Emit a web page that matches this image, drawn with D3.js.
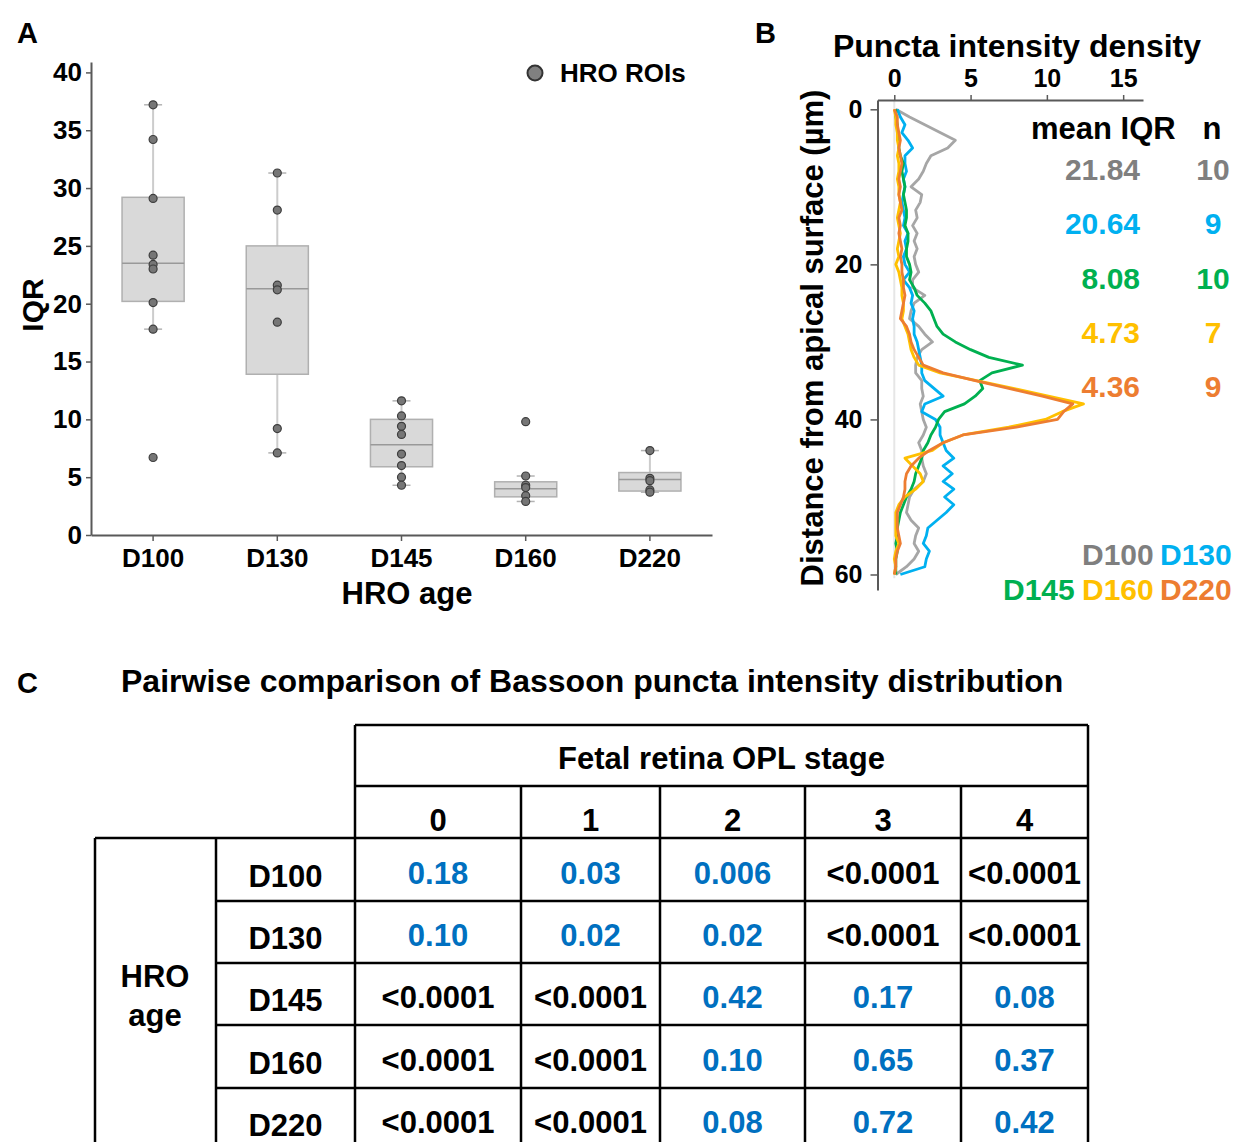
<!DOCTYPE html>
<html>
<head>
<meta charset="utf-8">
<script src="https://cdn.jsdelivr.net/npm/d3@7"></script>
<style>
  body { margin: 0; background: #fff; }
  svg { display: block; font-family: "Liberation Sans", Arial, Helvetica, sans-serif; font-weight: bold; }
</style>
</head>
<body>
<svg id="fig" width="1234" height="1142"></svg>
<script>
// ---------- Panel A: IQR per HRO age ----------
const ages = ["D100", "D130", "D145", "D160", "D220"];
const roiIQR = [
  [37.2, 34.2, 29.1, 24.2, 23.4, 23.0, 20.1, 17.8, 6.7],
  [31.3, 28.1, 21.6, 21.2, 18.4, 9.2, 7.1],
  [11.6, 10.3, 9.4, 8.7, 7.0, 6.0, 5.0, 4.3],
  [9.8, 5.1, 4.3, 4.1, 3.4, 2.9],
  [7.3, 4.9, 4.7, 3.9, 3.7]
];
const boxQ1 = [20.2, 13.9, 5.9, 3.3, 3.8];
const boxMedian = [23.5, 21.3, 7.8, 4.0, 4.8];
const boxQ3 = [29.2, 25.0, 10.0, 4.6, 5.4];
const whiskerLow = [17.8, 7.1, 4.3, 2.9, 3.7];
const whiskerHigh = [37.2, 31.3, 11.6, 5.1, 7.3];
const iqrTicks = [0, 5, 10, 15, 20, 25, 30, 35, 40];

// ---------- Panel B: puncta intensity density vs depth ----------
const depth = [0, 1, 2, 3, 4, 5, 6, 7, 8, 9, 10, 11, 12, 13, 14, 15, 16, 17, 18, 19, 20,
  21, 22, 23, 24, 25, 26, 27, 28, 29, 30, 31, 32, 33, 34, 35, 36, 37, 38, 39, 40,
  41, 42, 43, 44, 45, 46, 47, 48, 49, 50, 51, 52, 53, 54, 55, 56, 57, 58, 59, 60];
const densD100 = [0.1, 1.0, 2.0, 3.0, 4.0, 3.5, 2.4, 2.1, 1.9, 1.6, 1.1, 1.8, 1.7, 1.4, 1.5, 1.2, 1.5, 1.3, 1.5, 1.3, 1.4,
  1.6, 1.2, 1.2, 2.0, 1.3, 1.1, 1.0, 1.6, 2.0, 2.5, 1.8, 1.5, 1.4, 1.4, 1.8, 1.8, 1.9, 1.7, 1.8, 1.9,
  2.1, 1.9, 1.6, 1.8, 1.8, 1.9, 2.1, 1.9, 1.3, 1.0, 0.9, 0.8, 1.1, 1.6, 1.4, 1.3, 1.6, 1.3, 0.8, 0.1];
const densD130 = [0.2, 0.4, 0.7, 0.5, 0.9, 1.2, 0.7, 0.7, 0.8, 0.6, 0.7, 0.6, 0.5, 0.6, 0.7, 0.6, 0.9, 0.7, 0.8, 0.6, 0.7,
  1.0, 0.6, 1.0, 1.2, 1.1, 1.3, 1.2, 1.3, 1.3, 1.5, 1.6, 1.7, 1.8, 1.8, 2.0, 2.6, 3.2, 2.0, 1.8, 2.7,
  3.0, 3.0, 3.2, 3.4, 3.9, 3.2, 3.8, 3.2, 3.9, 3.3, 3.9, 3.4, 2.8, 2.2, 2.1, 1.9, 2.3, 2.1, 2.0, 0.4];
const densD145 = [0.1, 0.1, 0.2, 0.2, 0.3, 0.3, 0.4, 0.6, 0.5, 0.6, 0.7, 0.6, 0.7, 0.8, 0.8, 0.7, 0.9, 0.9, 0.8, 0.8, 1.0,
  1.1, 1.0, 1.3, 1.5, 2.0, 2.4, 2.6, 2.8, 3.2, 4.0, 5.0, 6.2, 8.4, 6.4, 5.6, 5.8, 5.3, 4.6, 3.3, 2.9,
  2.7, 2.4, 2.2, 1.9, 1.8, 1.6, 1.4, 1.3, 1.1, 0.8, 0.6, 0.4, 0.3, 0.2, 0.2, 0.1, 0.2, 0.1, 0.1, 0.1];
const densD160 = [0.0, 0.1, 0.1, 0.2, 0.2, 0.3, 0.2, 0.3, 0.3, 0.2, 0.3, 0.3, 0.4, 0.3, 0.2, 0.3, 0.4, 0.3, 0.2, 0.3, 0.1,
  0.3, 0.4, 0.5, 0.5, 0.6, 0.6, 0.5, 0.7, 0.9, 1.0, 1.1, 1.3, 1.6, 3.0, 5.4, 7.8, 10.1, 12.4, 11.0, 9.9,
  7.5, 4.5, 3.2, 2.5, 0.7, 1.2, 1.7, 1.9, 1.4, 0.7, 0.3, 0.1, 0.1, 0.1, 0.1, 0.3, 0.1, 0.0, 0.1, 0.0];
const densD220 = [0.0, 0.2, 0.2, 0.3, 0.4, 0.3, 0.4, 0.5, 0.4, 0.3, 0.4, 0.3, 0.4, 0.5, 0.3, 0.4, 0.3, 0.4, 0.5, 0.4, 0.5,
  0.5, 0.6, 0.6, 0.7, 0.6, 0.5, 0.4, 0.8, 1.0, 1.1, 1.3, 1.6, 1.9, 3.2, 5.3, 7.5, 9.7, 11.7, 11.1, 10.7,
  8.0, 4.5, 3.2, 2.3, 1.6, 1.1, 0.8, 0.7, 0.7, 0.6, 0.4, 0.2, 0.2, 0.2, 0.3, 0.4, 0.2, 0.1, 0.1, 0.0];
const meanIQR = ["21.84", "20.64", "8.08", "4.73", "4.36"];
const nROIs = ["10", "9", "10", "7", "9"];
const densTicks = [0, 5, 10, 15];
const depthTicks = [0, 20, 40, 60];

// ---------- Panel C: pairwise p-values ----------
const oplStages = ["0", "1", "2", "3", "4"];
const pValues = [
  ["0.18", "0.03", "0.006", "<0.0001", "<0.0001"],
  ["0.10", "0.02", "0.02", "<0.0001", "<0.0001"],
  ["<0.0001", "<0.0001", "0.42", "0.17", "0.08"],
  ["<0.0001", "<0.0001", "0.10", "0.65", "0.37"],
  ["<0.0001", "<0.0001", "0.08", "0.72", "0.42"]
];

const seriesColor = ["#a6a6a6", "#00b0f0", "#00b050", "#ffc000", "#ed7d31"];
const labelColor = ["#7f7f7f", "#00b0f0", "#00b050", "#ffc000", "#ed7d31"];
const axisColor = "#595959";
const fontFam = '"Liberation Sans", Arial, Helvetica, sans-serif';

const svg = d3.select("#fig");
svg.append("rect").attr("width", 1234).attr("height", 1142).attr("fill", "#fff");

function styleAxis(g, size) {
  g.select(".domain").attr("stroke", axisColor).attr("stroke-width", 2);
  g.selectAll(".tick line").attr("stroke", axisColor).attr("stroke-width", 1.5);
  g.selectAll(".tick text")
    .attr("font-family", fontFam)
    .attr("font-weight", "bold")
    .attr("font-size", size)
    .attr("fill", "#000");
}

// panel letters
[["A", 17, 43], ["B", 755, 43], ["C", 17, 693]].forEach(([t, x, y]) => {
  svg.append("text").attr("x", x).attr("y", y).attr("font-size", 29).text(t);
});

// ================= Panel A =================
const xA = d3.scaleBand().domain(ages).range([91, 712]);
const yA = d3.scaleLinear().domain([0, 40.9]).range([535, 62]);
const gA = svg.append("g");

const boxes = gA.selectAll("g.box")
  .data(ages)
  .join("g")
  .attr("class", "box");

boxes.each(function(a, i) {
  const g = d3.select(this);
  const cx = xA(a) + xA.bandwidth() / 2;
  const bw = xA.bandwidth() / 2;
  // whisker
  g.append("line")
    .attr("x1", cx).attr("x2", cx)
    .attr("y1", yA(whiskerLow[i])).attr("y2", yA(whiskerHigh[i]))
    .attr("stroke", "#cccccc").attr("stroke-width", 2);
  [whiskerLow[i], whiskerHigh[i]].forEach(v => {
    g.append("line")
      .attr("x1", cx - 9).attr("x2", cx + 9)
      .attr("y1", yA(v)).attr("y2", yA(v))
      .attr("stroke", "#b3b3b3").attr("stroke-width", 1.5);
  });
  // box
  g.append("rect")
    .attr("x", cx - bw / 2).attr("width", bw)
    .attr("y", yA(boxQ3[i])).attr("height", yA(boxQ1[i]) - yA(boxQ3[i]))
    .attr("fill", "#d9d9d9").attr("stroke", "#b0b0b0").attr("stroke-width", 1.5);
  g.append("line")
    .attr("x1", cx - bw / 2).attr("x2", cx + bw / 2)
    .attr("y1", yA(boxMedian[i])).attr("y2", yA(boxMedian[i]))
    .attr("stroke", "#999").attr("stroke-width", 1.5);
  // points
  g.selectAll("circle")
    .data(roiIQR[i])
    .join("circle")
    .attr("cx", cx).attr("cy", d => yA(d)).attr("r", 4)
    .attr("fill", "#767676").attr("stroke", "#3d3d3d").attr("stroke-width", 1.2);
});

const yAxisA = gA.append("g").attr("transform", "translate(91,0)")
  .call(d3.axisLeft(yA).tickValues(iqrTicks).tickSize(5).tickSizeOuter(0).tickPadding(4));
styleAxis(yAxisA, 26);
const xAxisA = gA.append("g").attr("transform", "translate(0,535)")
  .call(d3.axisBottom(xA).tickSize(6).tickSizeOuter(0).tickPadding(8));
styleAxis(xAxisA, 26);

gA.append("text")
  .attr("transform", "translate(43,305) rotate(-90)")
  .attr("text-anchor", "middle").attr("font-size", 30).text("IQR");
gA.append("text")
  .attr("x", 407).attr("y", 604)
  .attr("text-anchor", "middle").attr("font-size", 31).text("HRO age");

// legend
gA.append("circle").attr("cx", 535).attr("cy", 73).attr("r", 7.5)
  .attr("fill", "#808080").attr("stroke", "#333").attr("stroke-width", 2);
gA.append("text").attr("x", 560).attr("y", 82).attr("font-size", 26).text("HRO ROIs");

// ================= Panel B =================
const xB = d3.scaleLinear().domain([-1.1, 16.3]).range([877.5, 1143]);
const yB = d3.scaleLinear().domain([-1.2, 62]).range([100, 590]);
const gB = svg.append("g");

gB.append("line")
  .attr("x1", xB(0)).attr("x2", xB(0))
  .attr("y1", yB(-1.2)).attr("y2", yB(60.5))
  .attr("stroke", "#e6e6e6").attr("stroke-width", 2);

const densSeries = [densD100, densD130, densD145, densD160, densD220];
const line = d3.line()
  .x(d => xB(d[1]))
  .y(d => yB(d[0]));

gB.selectAll("path.series")
  .data(densSeries)
  .join("path")
  .attr("class", "series")
  .attr("d", s => line(depth.map((dp, k) => [dp, s[k]])))
  .attr("fill", "none")
  .attr("stroke", (s, i) => seriesColor[i])
  .attr("stroke-width", 2.8)
  .attr("stroke-linejoin", "round");

const xAxisB = gB.append("g").attr("transform", "translate(0,100)")
  .call(d3.axisTop(xB).tickValues(densTicks).tickSize(5).tickSizeOuter(0).tickPadding(8));
styleAxis(xAxisB, 25);
const yAxisB = gB.append("g").attr("transform", "translate(877.5,0)")
  .call(d3.axisLeft(yB).tickValues(depthTicks).tickSize(7).tickSizeOuter(0).tickPadding(8));
styleAxis(yAxisB, 25);

gB.append("text").attr("x", 1017).attr("y", 57)
  .attr("text-anchor", "middle").attr("font-size", 32).text("Puncta intensity density");
gB.append("text")
  .attr("transform", "translate(823,338) rotate(-90)")
  .attr("text-anchor", "middle").attr("font-size", 31).text("Distance from apical surface (µm)");

// mean IQR / n legend
gB.append("text").attr("x", 1031).attr("y", 139).attr("font-size", 31).text("mean IQR");
gB.append("text").attr("x", 1212).attr("y", 139).attr("text-anchor", "middle").attr("font-size", 31).text("n");
const rowY = d3.scalePoint().domain(ages).range([180, 397]);
gB.selectAll("text.miqr")
  .data(meanIQR)
  .join("text")
  .attr("class", "miqr")
  .attr("x", 1140).attr("y", (d, i) => rowY(ages[i]))
  .attr("text-anchor", "end").attr("font-size", 30)
  .attr("fill", (d, i) => labelColor[i]).text(d => d);
gB.selectAll("text.nroi")
  .data(nROIs)
  .join("text")
  .attr("class", "nroi")
  .attr("x", 1213).attr("y", (d, i) => rowY(ages[i]))
  .attr("text-anchor", "middle").attr("font-size", 30)
  .attr("fill", (d, i) => labelColor[i]).text(d => d);

// series-name legend (two lines, right aligned)
const legendSlots = [[1082, 565], [1160, 565], [1003, 600], [1082, 600], [1160, 600]];
gB.selectAll("text.sname")
  .data(ages)
  .join("text")
  .attr("class", "sname")
  .attr("x", (d, i) => legendSlots[i][0]).attr("y", (d, i) => legendSlots[i][1])
  .attr("font-size", 30)
  .attr("fill", (d, i) => labelColor[i]).text(d => d);

// ================= Panel C =================
const gC = svg.append("g");
gC.append("text").attr("x", 121).attr("y", 692).attr("font-size", 32)
  .text("Pairwise comparison of Bassoon puncta intensity distribution");

const colEdges = [355, 521, 660, 805, 961, 1088];
const rowEdges = [838, 901, 963, 1025, 1088, 1150];
const headTop = 725, headMid = 786;
const tableLeft = 95, labelLeft = 216;
const lw = 2.5;

function hline(x1, x2, y) {
  gC.append("line").attr("x1", x1).attr("x2", x2).attr("y1", y).attr("y2", y)
    .attr("stroke", "#000").attr("stroke-width", lw);
}
function vline(x, y1, y2) {
  gC.append("line").attr("x1", x).attr("x2", x).attr("y1", y1).attr("y2", y2)
    .attr("stroke", "#000").attr("stroke-width", lw);
}
hline(colEdges[0], colEdges[5], headTop);
hline(colEdges[0], colEdges[5], headMid);
hline(tableLeft, colEdges[5], rowEdges[0]);
rowEdges.slice(1).forEach(y => hline(labelLeft, colEdges[5], y));
vline(tableLeft, rowEdges[0], rowEdges[5]);
vline(labelLeft, rowEdges[0], rowEdges[5]);
vline(colEdges[0], headTop, rowEdges[5]);
vline(colEdges[5], headTop, rowEdges[5]);
colEdges.slice(1, 5).forEach(x => vline(x, headMid, rowEdges[5]));

gC.append("text").attr("x", (colEdges[0] + colEdges[5]) / 2).attr("y", 769)
  .attr("text-anchor", "middle").attr("font-size", 31).text("Fetal retina OPL stage");

gC.selectAll("text.stage")
  .data(oplStages)
  .join("text")
  .attr("class", "stage")
  .attr("x", (d, j) => (colEdges[j] + colEdges[j + 1]) / 2)
  .attr("y", 831)
  .attr("text-anchor", "middle").attr("font-size", 31).text(d => d);

gC.selectAll("text.age")
  .data(ages)
  .join("text")
  .attr("class", "age")
  .attr("x", (labelLeft + colEdges[0]) / 2)
  .attr("y", (d, i) => (rowEdges[i] + rowEdges[i + 1]) / 2 + 17)
  .attr("text-anchor", "middle").attr("font-size", 31).text(d => d);

gC.append("text").attr("x", 155).attr("y", 987).attr("text-anchor", "middle").attr("font-size", 31).text("HRO");
gC.append("text").attr("x", 155).attr("y", 1026).attr("text-anchor", "middle").attr("font-size", 31).text("age");

pValues.forEach((row, i) => {
  gC.selectAll("text.p" + i)
    .data(row)
    .join("text")
    .attr("class", "p" + i)
    .attr("x", (d, j) => (colEdges[j] + colEdges[j + 1]) / 2)
    .attr("y", (rowEdges[i] + rowEdges[i + 1]) / 2 + 14)
    .attr("text-anchor", "middle").attr("font-size", 31)
    .attr("fill", d => d.startsWith("<") ? "#000" : "#0070c0")
    .text(d => d);
});
</script>
</body>
</html>
